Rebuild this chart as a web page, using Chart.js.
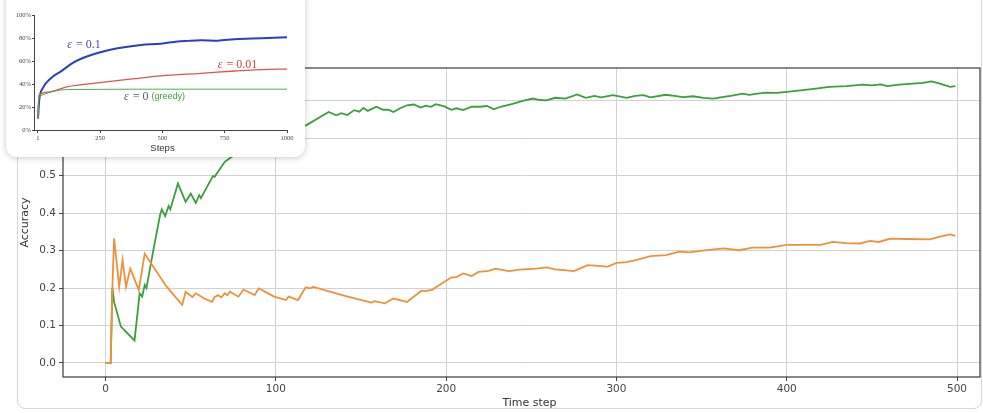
<!DOCTYPE html>
<html>
<head>
<meta charset="utf-8">
<script src="https://cdn.jsdelivr.net/npm/chart.js@4.4.1/dist/chart.umd.min.js"></script>
<style>
  html, body { margin: 0; padding: 0; background: #fff; }
  #wrap { position: relative; width: 983px; height: 413px; overflow: hidden; }
  #card { position: absolute; left: 17px; top: -30px; width: 963px; height: 437px;
          border: 1px solid #d6d6d6; border-radius: 8px; }
  #main { position: absolute; left: 0; top: 0; }
  #inset { position: absolute; left: 6px; top: -10px; width: 299px; height: 167px;
           background: #fff; border-radius: 11px; box-shadow: 0 1px 6px rgba(0,0,0,0.22); }
  #insetChart { position: absolute; left: 0; top: 0; }
</style>
</head>
<body>
<div id="wrap">
  <div id="card"></div>
  <canvas id="main" width="983" height="413"></canvas>
  <div id="inset"><canvas id="insetChart" width="299" height="167"></canvas></div>
</div>
<script>
// main chart: accuracy per time step
const greenSteps = [0, 3, 4, 5, 9, 17, 20, 21.5, 23, 24, 28, 32, 33, 35, 37, 38, 42.5, 47, 50, 53, 55, 56, 63, 64, 70, 74,
  80, 90, 100, 110, 118, 131, 135.5, 138.5, 142, 146, 149, 151.5, 154, 159, 163, 166, 169, 173, 177, 181, 185, 188, 191,
  194, 199, 203, 206, 210, 215, 220, 224, 228, 232, 239, 245, 251, 255, 259, 264, 270, 277, 282, 287, 291, 298, 306, 311,
  316, 320, 329, 334, 339, 345, 351, 357, 361, 368, 374, 378, 383, 388, 394, 400, 408, 416, 425, 435, 445, 450, 455, 459,
  466, 474, 480, 485, 490, 496, 499];
const greenAcc = [0, 0, 0.2, 0.163, 0.097, 0.06, 0.186, 0.177, 0.208, 0.2, 0.30, 0.395, 0.41, 0.392, 0.419, 0.41, 0.479,
  0.43, 0.452, 0.427, 0.448, 0.44, 0.499, 0.497, 0.537, 0.55,
  0.57, 0.59, 0.605, 0.62, 0.635, 0.670, 0.661, 0.667, 0.662, 0.675, 0.671, 0.681, 0.673, 0.684, 0.676, 0.676, 0.670,
  0.680, 0.688, 0.690, 0.682, 0.687, 0.684, 0.691, 0.685, 0.676, 0.680, 0.675, 0.684, 0.684, 0.686, 0.677, 0.684, 0.692,
  0.700, 0.706, 0.702, 0.701, 0.708, 0.706, 0.717, 0.708, 0.713, 0.709, 0.715, 0.708, 0.713, 0.715, 0.709, 0.716, 0.713,
  0.710, 0.712, 0.708, 0.706, 0.709, 0.714, 0.719, 0.716, 0.719, 0.722, 0.721, 0.724, 0.728, 0.732, 0.737, 0.739, 0.743,
  0.741, 0.744, 0.739, 0.743, 0.746, 0.748, 0.752, 0.746, 0.737, 0.739];

const orangeSteps = [0, 3, 4, 5, 8, 10, 12, 14.5, 19.5, 23, 28, 36, 45, 47, 51, 53, 58, 62.5, 64, 66, 68, 70, 71.5, 73,
  78, 81, 87.5, 90, 99, 106, 107.5, 113, 117.5, 120, 122, 140, 156, 158, 164, 169, 177, 185.5, 188, 192, 196, 203, 206,
  210, 215, 219, 225, 229, 237, 243, 253, 259, 264, 269, 275, 283, 289, 295, 300, 306, 312, 320, 329, 337, 343, 353, 363,
  372, 380, 390, 400, 410, 420, 427, 435, 443, 449, 454, 461, 470, 484, 490, 496, 499];
const orangeAcc = [0, 0, 0.2, 0.333, 0.203, 0.275, 0.203, 0.252, 0.195, 0.292, 0.257, 0.203, 0.155, 0.19, 0.176, 0.186,
  0.172, 0.163, 0.176, 0.181, 0.175, 0.186, 0.181, 0.19, 0.177, 0.196, 0.181, 0.199, 0.177, 0.168, 0.177, 0.168, 0.202,
  0.199, 0.203, 0.180, 0.161, 0.165, 0.159, 0.172, 0.163, 0.193, 0.192, 0.196, 0.208, 0.228, 0.229, 0.239, 0.232, 0.243,
  0.246, 0.252, 0.245, 0.249, 0.252, 0.255, 0.250, 0.248, 0.245, 0.261, 0.259, 0.257, 0.267, 0.269, 0.275, 0.285, 0.288,
  0.297, 0.295, 0.301, 0.306, 0.301, 0.308, 0.308, 0.315, 0.315, 0.315, 0.323, 0.320, 0.319, 0.326, 0.323, 0.332, 0.331,
  0.330, 0.337, 0.343, 0.339];

const xTicks = [0, 100, 200, 300, 400, 500];
const yTicks = [0, 0.1, 0.2, 0.3, 0.4, 0.5, 0.6, 0.7];

// inset: epsilon-greedy average reward curves
const blueSteps = [1, 6, 19, 53, 93, 146, 186, 240, 320, 414, 494, 561, 600, 655, 722, 789, 860, 923, 1000];
const blueVals = [10, 26, 36, 45, 51, 59, 63, 67, 71, 74, 75, 77, 77.5, 78, 77.7, 79, 79.5, 80, 80.6];
const redSteps = [1, 5, 40, 120, 240, 387, 494, 655, 789, 923, 1000];
const redVals = [10, 30, 33, 37.7, 41, 44.6, 47, 49.3, 51.3, 52.8, 53];
const greedySteps = [1, 3, 13, 53, 120, 620, 1000];
const greedyVals = [10, 26, 30, 33, 35.2, 35.5, 35.5];
const insetXTicks = [1, 250, 500, 750, 1000];
const insetYTicks = [0, 20, 40, 60, 80, 100];

const pts = (xs, ys) => xs.map((x, i) => ({ x: x, y: ys[i] }));

const mainDecor = {
  id: 'mainDecor',
  afterDraw(chart) {
    const { ctx, chartArea: a } = chart;
    ctx.save();
    ctx.strokeStyle = '#3a3a3a';
    ctx.lineWidth = 1.2;
    ctx.strokeRect(a.left, a.top, a.right - a.left, a.bottom - a.top);
    ctx.fillStyle = '#333';
    ctx.font = '11px "DejaVu Sans"';
    ctx.textAlign = 'center';
    ctx.textBaseline = 'middle';
    ctx.fillText('Time step', (a.left + a.right) / 2 + 8, 403);
    ctx.translate(25, (a.top + a.bottom) / 2);
    ctx.rotate(-Math.PI / 2);
    ctx.fillText('Accuracy', 0, 0);
    ctx.restore();
  }
};

new Chart(document.getElementById('main'), {
  type: 'line',
  data: {
    datasets: [
      { data: pts(orangeSteps, orangeAcc), borderColor: '#f0913a', borderWidth: 1.8 },
      { data: pts(greenSteps, greenAcc), borderColor: '#3c9e3c', borderWidth: 1.8 }
    ]
  },
  options: {
    responsive: false,
    animation: false,
    layout: { padding: { top: 68, right: 3, left: 0, bottom: 0 } },
    elements: { point: { radius: 0 }, line: { tension: 0 } },
    plugins: { legend: { display: false }, tooltip: { enabled: false } },
    scales: {
      x: {
        type: 'linear', min: -25, max: 513.5,
        afterBuildTicks: s => { s.ticks = xTicks.map(v => ({ value: v })); },
        afterFit: s => { s.height = 36; },
        grid: { color: '#d2d2d2', tickColor: '#444', tickLength: 4 },
        border: { display: false },
        ticks: { font: { family: 'DejaVu Sans', size: 10.5 }, color: '#444', padding: 2, maxRotation: 0 }
      },
      y: {
        min: -0.0375, max: 0.7875,
        afterBuildTicks: s => { s.ticks = yTicks.map(v => ({ value: v })); },
        afterFit: s => { s.width = 63; },
        grid: { color: '#d2d2d2', tickColor: '#444', tickLength: 4 },
        border: { display: false },
        ticks: { font: { family: 'DejaVu Sans', size: 10.5 }, color: '#444', padding: 3,
                 callback: v => v.toFixed(1) }
      }
    }
  },
  plugins: [mainDecor]
});

// epsilon labels: italic epsilon, roman "= value"
function epsLabel(ctx, x, y, rest, color) {
  ctx.fillStyle = color;
  ctx.font = 'italic 12px "Liberation Serif"';
  ctx.fillText('ε', x, y);
  const w = ctx.measureText('ε').width;
  ctx.font = '12px "Liberation Serif"';
  ctx.fillText(rest, x + w + 1, y);
  return w + 1 + ctx.measureText(rest).width;
}

const insetDecor = {
  id: 'insetDecor',
  afterDraw(chart) {
    const { ctx, chartArea: a, scales: { x, y } } = chart;
    ctx.save();
    ctx.textBaseline = 'middle';
    ctx.textAlign = 'left';
    epsLabel(ctx, x.getPixelForValue(118), y.getPixelForValue(74), ' = 0.1', '#4a4aa8');
    epsLabel(ctx, x.getPixelForValue(722), y.getPixelForValue(57), ' = 0.01', '#c8443c');
    const gx = x.getPixelForValue(346), gy = y.getPixelForValue(28.7);
    const w = epsLabel(ctx, gx, gy, ' = 0 ', '#5a5a7a');
    ctx.font = '9px "Liberation Sans"';
    ctx.fillStyle = '#3f9e3f';
    ctx.fillText('(greedy)', gx + w, gy);
    ctx.font = '9.5px "Liberation Sans"';
    ctx.fillStyle = '#333';
    ctx.textAlign = 'center';
    ctx.fillText('Steps', (a.left + a.right) / 2 + 2, 158);
    ctx.restore();
  }
};

const insetTickFont = { family: 'Liberation Serif', size: 6.5 };

new Chart(document.getElementById('insetChart'), {
  type: 'line',
  data: {
    datasets: [
      { data: pts(greedySteps, greedyVals), borderColor: '#4caf50', borderWidth: 1 },
      { data: pts(redSteps, redVals), borderColor: '#d9574f', borderWidth: 1.3 },
      { data: pts(blueSteps, blueVals), borderColor: '#2b3fc4', borderWidth: 2 }
    ]
  },
  options: {
    responsive: false,
    animation: false,
    layout: { padding: { top: 25, right: 18, left: 0, bottom: 0 } },
    elements: { point: { radius: 0 }, line: { cubicInterpolationMode: 'monotone' } },
    plugins: { legend: { display: false }, tooltip: { enabled: false } },
    scales: {
      x: {
        type: 'linear', min: -15, max: 1000,
        afterBuildTicks: s => { s.ticks = insetXTicks.map(v => ({ value: v })); },
        afterFit: s => { s.height = 27; },
        grid: { drawOnChartArea: false, tickColor: '#444', tickLength: 3 },
        border: { color: '#444', width: 1 },
        ticks: { font: insetTickFont, color: '#444', padding: 1, maxRotation: 0, callback: v => String(v) }
      },
      y: {
        min: 0, max: 100,
        afterBuildTicks: s => { s.ticks = insetYTicks.map(v => ({ value: v })); },
        afterFit: s => { s.width = 28; },
        grid: { drawOnChartArea: false, tickColor: '#444', tickLength: 2 },
        border: { color: '#444', width: 1 },
        ticks: { font: insetTickFont, color: '#444', padding: 1, callback: v => v + '%' }
      }
    }
  },
  plugins: [insetDecor]
});
</script>
</body>
</html>
